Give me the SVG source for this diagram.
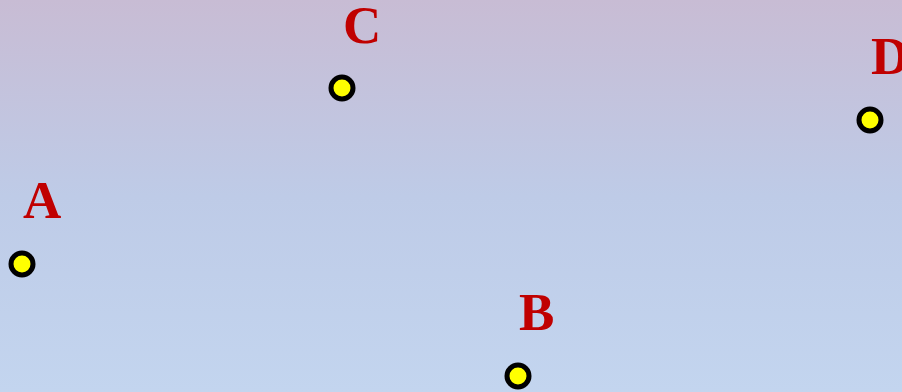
<svg xmlns="http://www.w3.org/2000/svg" width="902" height="392" viewBox="0 0 902 392">
<defs>
<linearGradient id="bg" x1="0" y1="0" x2="0" y2="1">
<stop offset="0" stop-color="#C8BCD4"/>
<stop offset="0.5" stop-color="#BECBE7"/>
<stop offset="1" stop-color="#C3D5EF"/>
</linearGradient>
<style>
.pt{fill:#FFFF00;stroke:#000000;stroke-width:5}
.lbl{font-family:"Liberation Serif","Times New Roman",serif;font-weight:bold;font-size:53px;fill:#C00000}
</style>
</defs>
<rect x="0" y="0" width="902" height="392" fill="url(#bg)"/>
<g id="connectors"></g>
<g id="A"><circle class="pt" cx="22" cy="264" r="11"/><text class="lbl" x="23" y="218">A</text></g>
<g id="B"><circle class="pt" cx="518" cy="376" r="11"/><text class="lbl" x="519" y="330">B</text></g>
<g id="C"><circle class="pt" cx="342" cy="88" r="11"/><text class="lbl" x="343" y="43">C</text></g>
<g id="D"><circle class="pt" cx="870" cy="120" r="11"/><text class="lbl" x="871" y="74">D</text></g>
</svg>
